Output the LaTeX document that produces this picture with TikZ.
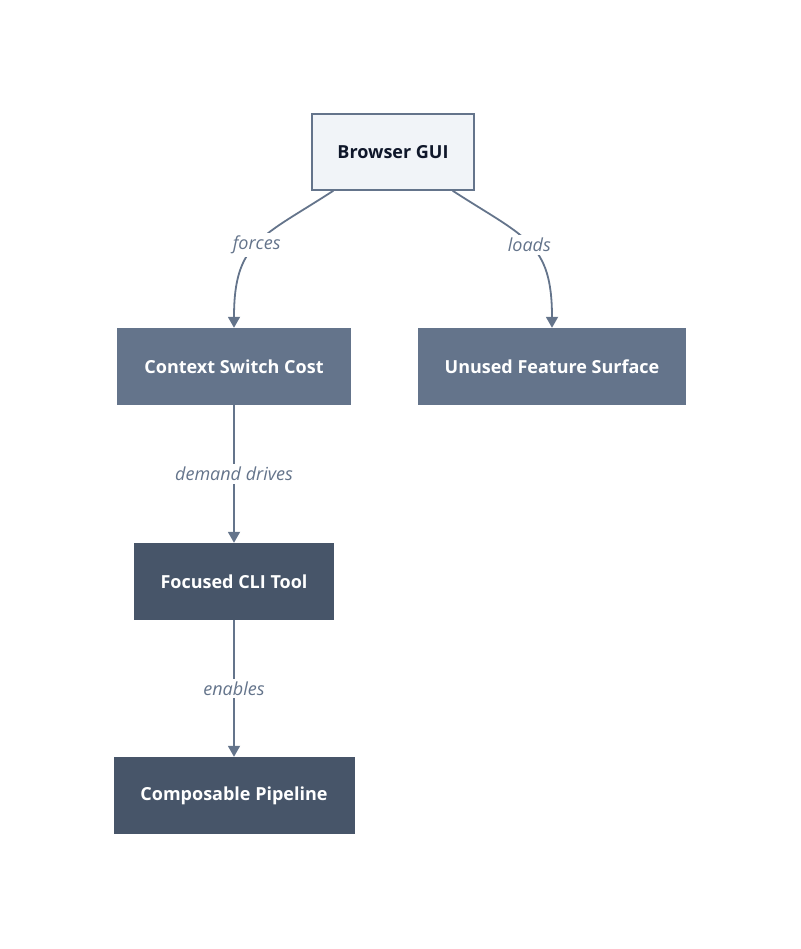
\documentclass[tikz,border=0pt]{standalone}
\usepackage{fontspec}
\setmainfont{Open Sans}
\usetikzlibrary{arrows.meta}

\definecolor{slateline}{HTML}{64748B}
\definecolor{slatemid}{HTML}{64748B}
\definecolor{slatedark}{HTML}{475569}
\definecolor{guifill}{HTML}{F1F4F8}
\definecolor{guitext}{HTML}{0F172A}

\begin{document}
\begin{tikzpicture}[x=1pt,y=1pt]
        \tikzstyle{every node}=[font=\fontsize{18}{21}\selectfont\bfseries]
        \tikzstyle{box}=[rectangle, inner sep=0pt, minimum height=77pt, text=white]
        \tikzstyle{guibox}=[box, fill=guifill, draw=slateline, line width=1.5pt, text=guitext, minimum height=76pt]
        \tikzstyle{midbox}=[box, fill=slatemid]
        \tikzstyle{darkbox}=[box, fill=slatedark]
        \tikzstyle{link}=[draw=slateline, line width=1.8pt, -{Triangle[length=11pt,width=12pt]}]
        \tikzstyle{tag}=[fill=white, inner sep=3pt, text=slateline, font=\fontsize{18}{21}\selectfont\itshape]

        \useasboundingbox (0,0) rectangle (800,-949);

        \node[guibox, minimum width=162pt] (gui) at (393,-152) {Browser GUI};
        \node[midbox, minimum width=234pt] (switch) at (234,-366.5) {Context Switch Cost};
        \node[midbox, minimum width=268pt] (unused) at (552,-366.5) {Unused Feature Surface};
        \node[darkbox, minimum width=200pt] (cli) at (234,-581.5) {Focused CLI Tool};
        \node[darkbox, minimum width=241pt] (pipe) at (234,-795.5) {Composable Pipeline};

        \draw[link] (gui.-147) to[out=-147,in=90,looseness=1.3] node[tag] {forces} (switch.north);
        \draw[link] (gui.-33) to[out=-33,in=90,looseness=1.3] node[tag] {loads} (unused.north);
        \draw[link] (switch) -- node[tag] {demand drives} (cli);
        \draw[link] (cli) -- node[tag] {enables} (pipe);

    \end{tikzpicture}
\end{document}
